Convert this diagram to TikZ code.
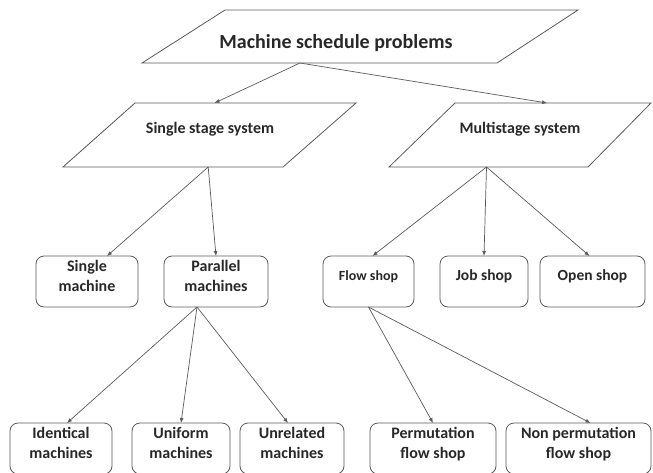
\documentclass[tikz,border=0pt]{standalone}
\usepackage{fontspec}
\setmainfont{Carlito}
\usetikzlibrary{arrows.meta,calc}

\definecolor{linegray}{RGB}{90,90,90}
\definecolor{textgray}{RGB}{40,40,40}

\tikzset{
  para/.style={draw=linegray, line width=0.8pt},
  paratext/.style={text=textgray, inner sep=1pt, font=\bfseries\fontsize{16}{19}\selectfont},
  rbox/.style={draw=linegray, line width=0.8pt, rounded corners=8pt, minimum height=51pt,
    align=center, inner sep=0pt, outer sep=0pt, text=textgray, text depth=12pt,
    font=\bfseries\fontsize{16}{20}\selectfont},
  shopbox/.style={rbox, font=\bfseries\fontsize{15.5}{18}\selectfont},
  link/.style={draw=linegray, line width=0.7pt, -{Latex[length=5pt,width=4pt]}}
}

\begin{document}
\begin{tikzpicture}[x=1pt, y=-1pt]
  \useasboundingbox (0,0) rectangle (653,472);

  % parallelograms
  \draw[para] (142,63) coordinate (msp-bl) -- (497,63) coordinate (msp-br)
    -- (578,10) coordinate (msp-tr) -- (225,10) coordinate (msp-tl) -- cycle;
  \draw[para] (63,167) coordinate (sss-bl) -- (283,167) coordinate (sss-br)
    -- (356,103) coordinate (sss-tr) -- (135,103) coordinate (sss-tl) -- cycle;
  \draw[para] (389,167) coordinate (mss-bl) -- (588,167) coordinate (mss-br)
    -- (651,103) coordinate (mss-tr) -- (455,103) coordinate (mss-tl) -- cycle;
  \node[paratext, font=\bfseries\fontsize{20}{24}\selectfont] (msp) at (336,43) {Machine schedule problems};
  \node[paratext] (sss) at (210,129) {Single stage system};
  \node[paratext] (mss) at (520,129) {Multistage system};

  % second row
  \node[rbox, minimum width=102pt] (sm)  at (87,281.5)     {Single\\machine};
  \node[rbox, minimum width=104pt] (pm)  at (216,281.5)    {Parallel\\machines};
  \node[shopbox, minimum width=91pt, font=\bfseries\fontsize{14}{17}\selectfont]
    (fs)  at (368.5,281.5) {Flow shop};
  \node[shopbox, minimum width=88pt]  (js)  at (484,281.5)   {Job shop};
  \node[shopbox, minimum width=105pt] (os)  at (592.5,281.5) {Open shop};

  % third row
  \node[rbox, minimum width=102pt] (im)  at (61,448.5)    {Identical\\machines};
  \node[rbox, minimum width=98pt]  (um)  at (181,448.5)   {Uniform\\machines};
  \node[rbox, minimum width=104pt] (rm)  at (292,448.5)   {Unrelated\\machines};
  \node[rbox, minimum width=126pt] (pfs) at (433,448.5)   {Permutation\\flow shop};
  \node[rbox, minimum width=145pt] (nfs) at (578.5,448.5) {Non permutation\\flow shop};

  % points on the slanted boxes
  \coordinate (msp-out) at ($(msp-bl)!0.445!(msp-br)$);
  \coordinate (sss-in)  at ($(sss-tl)!0.36!(sss-tr)$);
  \coordinate (mss-in)  at ($(mss-tl)!0.47!(mss-tr)$);
  \coordinate (sss-out) at ($(sss-bl)!0.66!(sss-br)$);
  \coordinate (mss-out) at ($(mss-bl)!0.49!(mss-br)$);

  \draw[link] (msp-out) -- (sss-in);
  \draw[link] (msp-out) -- (mss-in);
  \draw[link] (sss-out) -- ([xshift=20pt]sm.north);
  \draw[link] (sss-out) -- (pm.north);
  \draw[link] (mss-out) -- ([xshift=4pt]fs.north);
  \draw[link] (mss-out) -- (js.north);
  \draw[link] (mss-out) -- ([xshift=-3pt]os.north);
  \draw[link] ([xshift=-19pt]pm.south) -- ([xshift=6pt]im.north);
  \draw[link] ([xshift=-19pt]pm.south) -- (um.north);
  \draw[link] ([xshift=-19pt]pm.south) -- ([xshift=-4pt]rm.north);
  \draw[link] (fs.south) -- (pfs.north);
  \draw[link] (fs.south) -- ([xshift=12pt]nfs.north);
\end{tikzpicture}
\end{document}
